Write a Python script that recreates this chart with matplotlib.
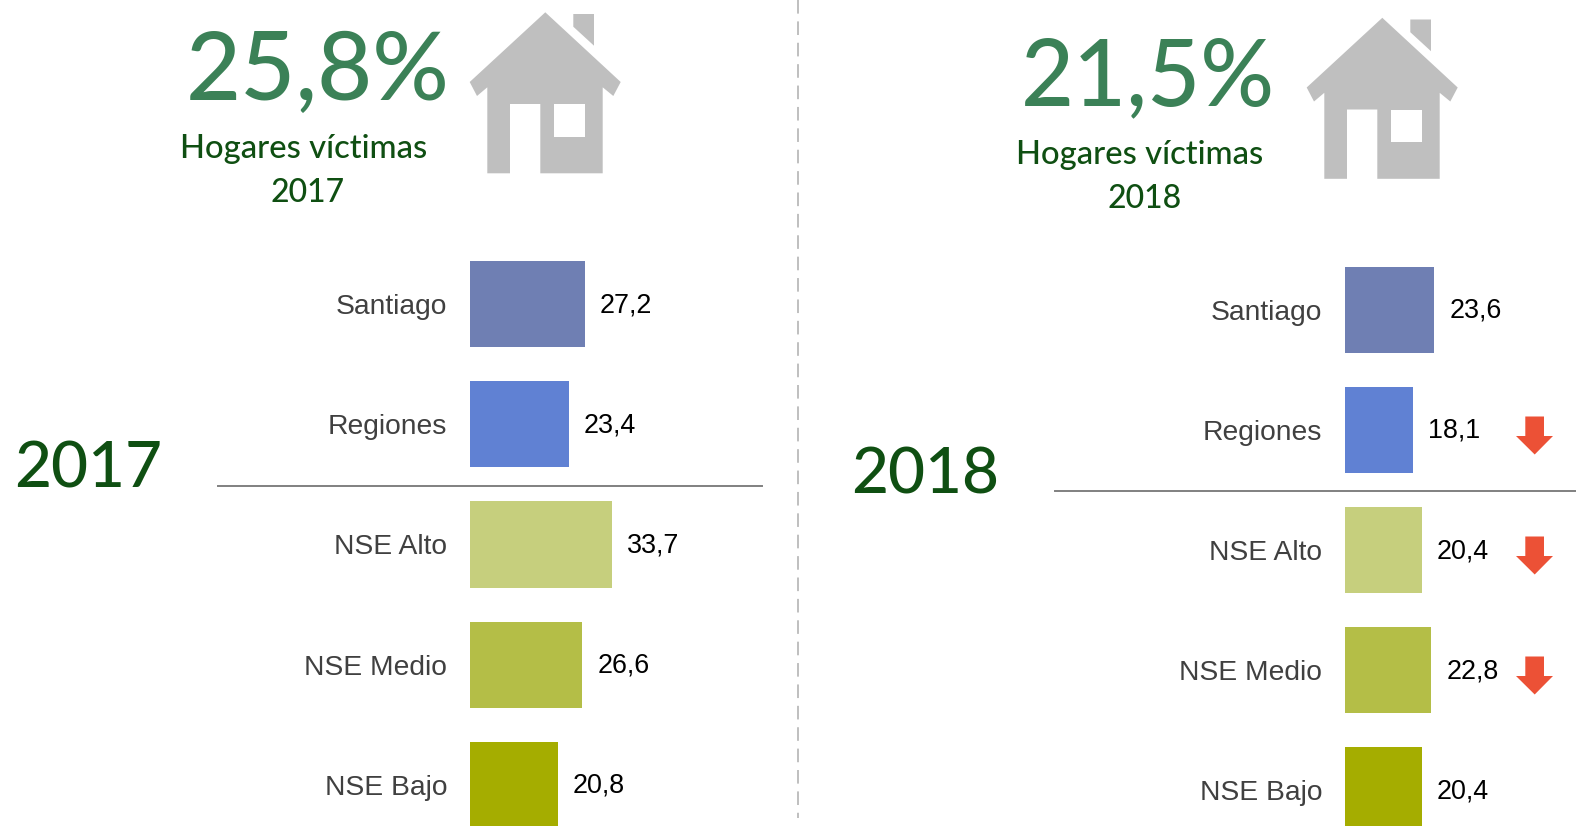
import matplotlib
matplotlib.use('Agg')
from matplotlib import pyplot as plt
from matplotlib.patches import Polygon, Rectangle

# values
categories = ['Santiago', 'Regiones', 'NSE Alto', 'NSE Medio', 'NSE Bajo']
values_2017 = [27.2, 23.4, 33.7, 26.6, 20.8]
values_2018 = [23.6, 18.1, 20.4, 22.8, 20.4]
bar_colors = ['#6F7FB3', '#6081D3', '#C6CF7D', '#B4BE47', '#A5AD00']
down_2018 = [False, True, True, True, False]
total_2017 = '25,8%'
total_2018 = '21,5%'

W, H = 1576, 826
big_font = 'Lato'
label_font = 'Liberation Sans'
light_green = '#3B8157'
dark_green = '#0F4F12'
house_gray = '#BFBFBF'
arrow_red = '#EC5136'

fig = plt.figure(figsize=(W / 100, H / 100), dpi=100, facecolor='white')


def make_bars(x0, px_per_unit, row0, values):
    # axes placed in pixels, one unit on x is px_per_unit pixels
    top = row0 - 60
    width = W - x0
    ax = fig.add_axes([x0 / W, 0, width / W, (H - top) / H])
    ax.patch.set_alpha(0)
    ax.barh(range(5), values, height=0.717, color=bar_colors)
    ax.set_xlim(0, width / px_per_unit)
    ax.set_ylim((H - top) / 120.2 - 0.5, -0.5)
    ax.set_yticks(range(5))
    ax.set_yticklabels(categories, fontname=label_font, fontsize=20.3, color='#404040')
    ax.tick_params(axis='y', length=0, pad=16.5)
    ax.set_xticks([])
    for s in ax.spines.values():
        s.set_visible(False)
    for i, v in enumerate(values):
        ax.annotate(str(v).replace('.', ','), (v, i), xytext=(15, -1), textcoords='offset pixels',
                    va='center', ha='left', fontname=label_font, fontsize=19.4, color='black')
    return ax


ax_2017 = make_bars(470, 4.22, 304, values_2017)
ax_2018 = make_bars(1345, 3.78, 309.5, values_2018)

# overlay in pixel coordinates for the decoration
over = fig.add_axes([0, 0, 1, 1], zorder=-1)
over.set_xlim(0, W)
over.set_ylim(H, 0)
over.axis('off')

house_body = [(545.3, 12.3), (620.7, 82), (613.3, 96), (602.7, 87.3), (602.7, 173.3), (540.3, 173.3),
              (540.3, 104), (510, 104), (510, 173.3), (487.3, 173.3), (487.3, 87.3), (477, 96), (469.7, 82)]
house_chimney = [(573.3, 14), (594, 14), (594, 45.7), (573.3, 26.7)]


def draw_house(dx, dy):
    over.add_patch(Polygon([(x + dx, y + dy) for x, y in house_body], fc=house_gray, ec='none'))
    over.add_patch(Polygon([(x + dx, y + dy) for x, y in house_chimney], fc=house_gray, ec='none'))
    over.add_patch(Rectangle((554 + dx, 104 + dy), 30.7, 32.7, fc='white', ec='none'))


draw_house(0, 0)
draw_house(837, 5.5)


def header(total, year, total_size, cx_total, cx_sub, cx_year, cx_big, dy):
    over.text(cx_total, 100 + dy, total, fontname=big_font, fontsize=total_size, color=light_green,
              ha='center', va='baseline', fontweight='medium')
    over.text(cx_sub, 158 + dy, 'Hogares víctimas', fontname=big_font, fontsize=23.6, color=dark_green,
              ha='center', va='baseline', fontweight='medium')
    over.text(cx_year, 202 + dy, year, fontname=big_font, fontsize=23, color=dark_green,
              ha='center', va='baseline', fontweight='medium')
    over.text(cx_big, 488 + dy, year, fontname=big_font, fontsize=46, color=dark_green,
              ha='center', va='baseline', fontweight='medium')


header(total_2017, '2017', 68.5, 317.5, 304, 308, 88.5, 0)
header(total_2018, '2018', 66, 1148, 1140, 1145, 925, 5.5)

# separators
over.plot([218, 762], [485.5, 485.5], color='#808080', lw=1.4)
over.plot([1055, 1576], [491, 491], color='#808080', lw=1.4)
over.plot([798, 798], [0, 818], color='#BFBFBF', lw=1.4, dashes=(7, 4))

# red arrows next to the 2018 values that went down
for i, down in enumerate(down_2018):
    if down:
        c = 309.5 + 120 * i
        y0 = c - 13
        pts = [(1525.3, y0), (1544, y0), (1544, y0 + 19.5), (1553, y0 + 19.5),
               (1534.7, y0 + 38), (1516, y0 + 19.5), (1525.3, y0 + 19.5)]
        over.add_patch(Polygon(pts, fc=arrow_red, ec='none'))

fig.savefig('out.png', dpi=100)
